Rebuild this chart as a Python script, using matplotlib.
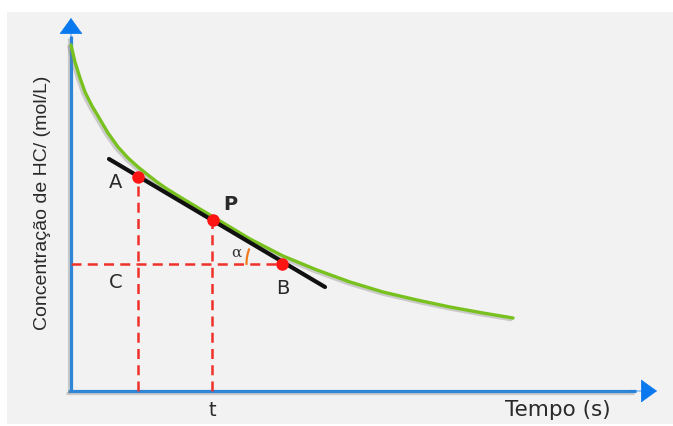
import matplotlib.pyplot as plt
import matplotlib.patheffects as pe
from matplotlib.patches import Rectangle, Arc, FancyArrowPatch

# concentration curve (arbitrary units)
curve_t = [0.00, 0.08, 0.18, 0.28, 0.42, 0.54, 0.74, 0.94, 1.14, 1.34, 1.54, 1.72, 1.92,
           2.18, 2.48, 2.88, 3.28, 3.58, 4.24, 4.92, 5.58, 6.24, 6.92, 7.58, 8.24, 8.84]
curve_c = [6.92, 6.58, 6.26, 5.98, 5.70, 5.50, 5.16, 4.88, 4.66, 4.48, 4.32, 4.18, 4.04,
           3.88, 3.70, 3.46, 3.22, 3.04, 2.70, 2.42, 2.18, 1.98, 1.82, 1.68, 1.56, 1.46]

# tangent line through P
tangent_t = [0.76, 5.08]
tangent_c = [4.64, 2.08]

# marked points
pt_names = ['A', 'P', 'B']
pt_t = [1.34, 2.84, 4.22]
pt_c = [4.28, 3.42, 2.55]

red = '#f0302a'
blue = '#2f86d6'

fig = plt.figure(figsize=(6.73, 4.26), dpi=100)
fig.patch.set_facecolor('white')
fig.patches.append(Rectangle((6.5 / 673, 2 / 426), 1 - 6.5 / 673, 412 / 426,
                             transform=fig.transFigure, facecolor='#f2f2f2',
                             edgecolor='none', zorder=-10))

ax = fig.add_axes([0, 0, 1, 1])
ax.set_xlim(-1.42, 12.04)
ax.set_ylim(-0.70, 7.82)
ax.axis('off')
ax.patch.set_alpha(0)

shadow = [pe.SimpleLineShadow(offset=(-1.5, -1.2), shadow_color='gray', alpha=0.35), pe.Normal()]

# axes with arrow heads
ax.plot([-0.06, 11.3], [0, 0], color=blue, lw=2.3, solid_capstyle='butt', path_effects=shadow, zorder=2)
ax.plot([0, 0], [0, 7.1], color=blue, lw=2.3, solid_capstyle='butt', path_effects=shadow, zorder=2)
for tail, tip in [((11.2, 0), (11.72, 0)), ((0, 7.0), (0, 7.46))]:
    ax.add_patch(FancyArrowPatch(tail, tip, arrowstyle='-|>,head_length=0.9,head_width=0.65',
                                 mutation_scale=12, color='#0a78ee', lw=0.5,
                                 shrinkA=0, shrinkB=0, zorder=3))

# dashed guides
ax.plot([pt_t[0], pt_t[0]], [0, pt_c[0]], ls=(0, (4, 2.5)), color=red, lw=1.8, zorder=3)
ax.plot([pt_t[1] - 0.03, pt_t[1] - 0.03], [0, pt_c[1]], ls=(0, (4, 2.5)), color=red, lw=1.8, zorder=3)
ax.plot([0, pt_t[2]], [pt_c[2], pt_c[2]], ls=(0, (4, 2.5)), color=red, lw=1.8, zorder=3)

# curve and tangent
ax.plot(curve_t, curve_c, color='#78c11e', lw=2.4, solid_capstyle='round',
        solid_joinstyle='round', path_effects=shadow, zorder=4)
ax.plot(tangent_t, tangent_c, color='#111111', lw=3, solid_capstyle='round', zorder=5)

ax.plot(pt_t, pt_c, 'o', color='#ff1414', ms=9, mec='none', zorder=6)

# angle alpha
ax.add_patch(Arc((4.31, 2.55), 1.6, 1.6, theta1=158, theta2=182, color='#f07a1e', lw=1.6, zorder=5))
ax.text(3.30, 2.76, 'α', fontsize=11, color='#333333', family='DejaVu Serif',
        ha='center', va='center', zorder=6)

lab = dict(fontsize=14, color='#2a2a2a', ha='center', va='center')
ax.text(0.90, 4.18, 'A', **lab)
ax.text(3.18, 3.72, 'P', fontweight='bold', **lab)
ax.text(0.90, 2.16, 'C', **lab)
ax.text(4.24, 2.06, 'B', **lab)
ax.text(2.82, -0.38, 't', **lab)
ax.text(9.74, -0.38, 'Tempo (s)', fontsize=15.5, color='#2a2a2a', ha='center', va='center')
ax.text(-0.56, 3.76, 'Concentração de HC/ (mol/L)', rotation=90, fontsize=14,
        family='Liberation Sans', color='#2a2a2a', ha='center', va='center')

plt.savefig('out.png', dpi=100)
